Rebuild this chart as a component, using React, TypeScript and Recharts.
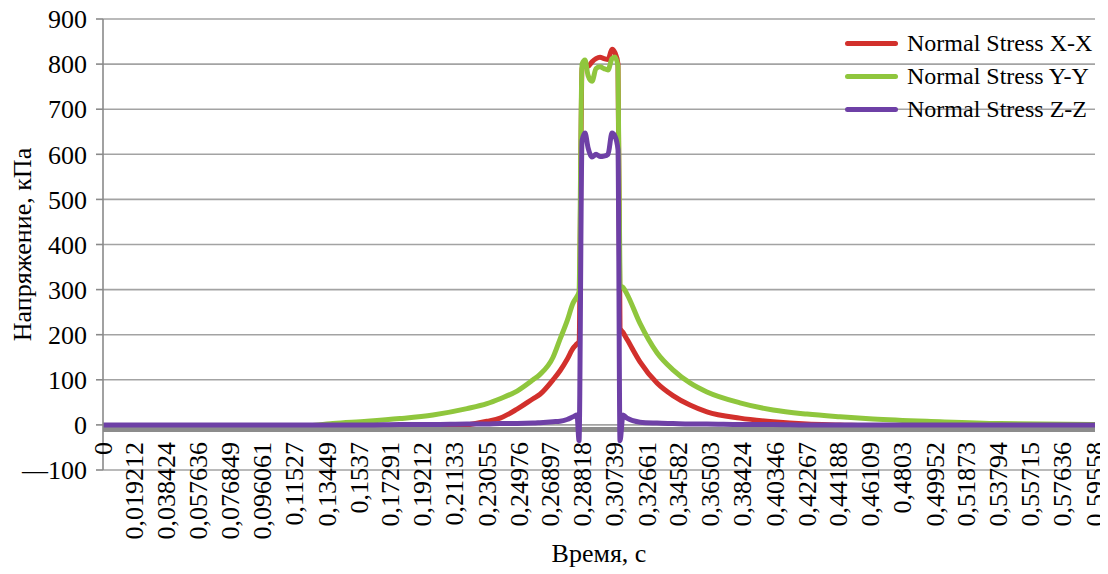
import React from "react";
import {
  CartesianGrid,
  Label,
  Legend,
  Line,
  LineChart,
  ReferenceLine,
  XAxis,
  YAxis,
} from "recharts";

const FONT = "Liberation Serif, Tinos, Times New Roman, DejaVu Serif, serif";

// time, s
const time = [
  0, 0.0222, 0.0462, 0.0702, 0.0943, 0.1183, 0.1381, 0.1585, 0.1783, 0.1981,
  0.2185, 0.2305, 0.2384, 0.2486, 0.2582, 0.2624, 0.2702, 0.2744, 0.2786,
  0.2822, 0.2846, 0.2858, 0.2876, 0.2894, 0.2912, 0.2936, 0.296, 0.2984,
  0.3008, 0.3032, 0.3056, 0.3074, 0.3092, 0.3104, 0.3122, 0.3146, 0.3224,
  0.3326, 0.3422, 0.3524, 0.3626, 0.3824, 0.4023, 0.4227, 0.4425, 0.4623,
  0.5025, 0.5385, 0.59558,
];

// stress, kPa
const stressXX = [
  -8, -8, -8, -8, -8, -9, -10, -10, -9, -5,
  0, 8, 15, 35, 58, 68, 100, 120, 145,
  170, 180, 185, 790, 800, 795, 805, 812, 815,
  812, 810, 833, 825, 800, 215, 205, 190, 140,
  93, 65, 44, 29, 15, 7, 2, 0, -2,
  -3, -4, -5,
];
const stressYY = [
  -8, -8, -8, -8, -7, -4, 3, 8, 14, 22,
  36, 47, 58, 75, 100, 112, 150, 190, 230,
  270, 285, 295, 800, 809, 775, 762, 790, 794,
  790, 787, 812, 816, 795, 310, 305, 290, 225,
  160, 122, 93, 73, 49, 33, 24, 18, 13,
  7, 3, 1,
];
const stressZZ = [
  0, 0, 0, 0, 0, 0, 0, 0, 1, 1,
  2, 2, 3, 3, 4, 5, 7, 8, 12,
  18, 22, -35, 630, 647, 615, 594, 600, 595,
  596, 600, 647, 640, 610, -35, 22, 15, 6,
  4, 3, 2, 2, 1, 1, 0, 0, 0,
  0, 0, 0,
];

const timeLabels = [
  "0", "0,019212", "0,038424", "0,057636", "0,076849", "0,096061", "0,11527",
  "0,13449", "0,1537", "0,17291", "0,19212", "0,21133", "0,23055", "0,24976",
  "0,26897", "0,28818", "0,30739", "0,32661", "0,34582", "0,36503", "0,38424",
  "0,40346", "0,42267", "0,44188", "0,46109", "0,4803", "0,49952", "0,51873",
  "0,53794", "0,55715", "0,57636", "0,59558",
];
const stressTicks = [-100, 0, 100, 200, 300, 400, 500, 600, 700, 800, 900];

const seriesNames = ["Normal Stress X-X", "Normal Stress Y-Y", "Normal Stress Z-Z"];
const colors = ["#d2302c", "#8fc63d", "#6e40a6"];

const data = time.map((t, i) => ({
  time: t,
  xx: stressXX[i],
  yy: stressYY[i],
  zz: stressZZ[i],
}));
const timeTicks = timeLabels.map((s) => parseFloat(s.replace(",", ".")));

const textStyle = { fontFamily: FONT, fontSize: 26, fill: "#000" };

const TimeTick = (props: any) => {
  const { x, y, index } = props;
  return (
    <text
      transform={`translate(${x},${y - 28}) rotate(-90)`}
      textAnchor="end"
      dominantBaseline="central"
      style={textStyle}
    >
      {timeLabels[index]}
    </text>
  );
};

const renderLegend = () => (
  <div style={{ fontFamily: FONT, fontSize: 24, color: "#000" }}>
    {seriesNames.map((name, i) => (
      <div key={name} style={{ display: "flex", alignItems: "center", height: 33 }}>
        <span
          style={{
            display: "inline-block",
            width: 53,
            height: 5,
            borderRadius: 3,
            background: colors[i],
            marginRight: 9,
          }}
        />
        <span style={{ whiteSpace: "nowrap" }}>{name}</span>
      </div>
    ))}
  </div>
);

const App = () => {
  return (
    <div style={{ width: 1100, height: 566, fontFamily: FONT }}>
      <LineChart
        width={1100}
        height={566}
        data={data}
        margin={{ top: 11, right: 13, left: 0, bottom: 0 }}
        style={{ overflow: "visible" }}
      >
        <CartesianGrid horizontal vertical={false} stroke="#a3a3a3" strokeWidth={1.6} />
        <XAxis
          dataKey="time"
          type="number"
          domain={[0, 0.59558]}
          ticks={timeTicks}
          interval={0}
          tick={<TimeTick />}
          tickLine={false}
          axisLine={false}
          tickSize={0}
          tickMargin={0}
          height={104}
        >
          <Label
            content={(p: any) => {
              const vb = p.viewBox || { x: 95, y: 462, width: 992, height: 104 };
              return (
                <text
                  x={vb.x + vb.width / 2}
                  y={vb.y + 83}
                  textAnchor="middle"
                  dominantBaseline="central"
                  style={textStyle}
                >
                  Время, с
                </text>
              );
            }}
          />
        </XAxis>
        <YAxis
          type="number"
          domain={[-100, 900]}
          ticks={stressTicks}
          interval={0}
          width={95}
          tickSize={7}
          tickMargin={9}
          stroke="#8a8a8a"
          axisLine={{ stroke: "#8a8a8a", strokeWidth: 1.6 }}
          tickLine={{ stroke: "#8a8a8a", strokeWidth: 1.6 }}
          tick={{ style: textStyle, fontFamily: FONT, fontSize: 26, fill: "#000" }}
          tickFormatter={(v: number) => (v < 0 ? `\u2014${Math.abs(v)}` : String(v))}
        >
          <Label
            content={(p: any) => {
              const vb = p.viewBox || { x: 0, y: 11, width: 95, height: 451 };
              return (
                <text
                  transform={`translate(${vb.x + 14},${vb.y + vb.height / 2}) rotate(-90)`}
                  textAnchor="middle"
                  dominantBaseline="central"
                  style={textStyle}
                >
                  Напряжение, кПа
                </text>
              );
            }}
          />
        </YAxis>
        <Line
          type="monotone"
          dataKey="xx"
          name={seriesNames[0]}
          stroke={colors[0]}
          strokeWidth={5}
          dot={false}
          isAnimationActive={false}
        />
        <Line
          type="monotone"
          dataKey="yy"
          name={seriesNames[1]}
          stroke={colors[1]}
          strokeWidth={5}
          dot={false}
          isAnimationActive={false}
        />
        <ReferenceLine y={-10} stroke="#8c8c8c" strokeWidth={5} />
        <Line
          type="monotone"
          dataKey="zz"
          name={seriesNames[2]}
          stroke={colors[2]}
          strokeWidth={5}
          dot={false}
          isAnimationActive={false}
        />
        <Legend
          layout="horizontal"
          verticalAlign="middle"
          align="center"
          content={renderLegend}
          wrapperStyle={{ top: 19, left: 837, width: 270 }}
        />
      </LineChart>
    </div>
  );
};

export default App;
